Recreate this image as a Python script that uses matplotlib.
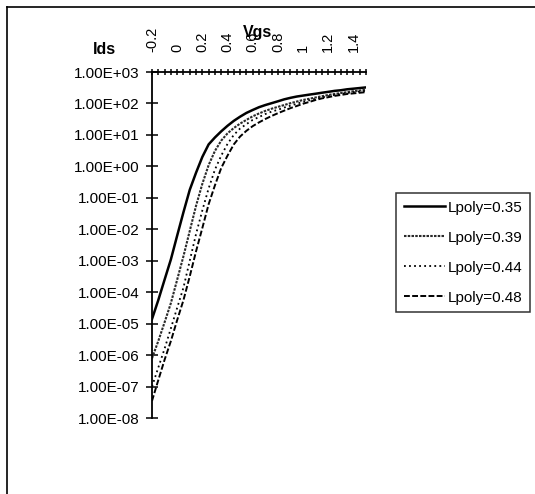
import matplotlib
matplotlib.use("Agg")
import matplotlib.pyplot as plt
from matplotlib.ticker import FixedLocator, FixedFormatter, FuncFormatter
from matplotlib.lines import Line2D

plt.rcParams['font.family'] = ['Liberation Sans', 'DejaVu Sans']

vgs = [-0.2, -0.15, -0.1, -0.05, 0.0, 0.05, 0.1, 0.15, 0.2, 0.25, 0.3, 0.35,
       0.4, 0.45, 0.5, 0.55, 0.6, 0.65, 0.7, 0.75, 0.8, 0.85, 0.9, 0.95, 1.0,
       1.05, 1.1, 1.15, 1.2, 1.25, 1.3, 1.35, 1.4, 1.45, 1.5]

ids_035 = [1.4e-5, 5.6e-5, 2.5e-4, 1.1e-3, 6.3e-3, 3.5e-2, 0.18, 0.63, 2.0, 5.0,
           8.3, 13, 19.5, 28, 38, 50, 62, 76, 89, 102, 117, 135, 151, 166, 178,
           191, 204, 219, 234, 251, 263, 282, 295, 309, 324]
ids_039 = [7.9e-7, 2.8e-6, 1.1e-5, 4.5e-5, 2.5e-4, 1.4e-3, 8.9e-3, 5.6e-2, 0.28, 1.1,
           3.1, 6.6, 11.2, 16.6, 22.9, 30, 39, 48, 58, 68, 78, 89, 102, 115, 129,
           141, 155, 170, 186, 200, 214, 229, 245, 257, 275]
ids_044 = [1.0e-7, 4.0e-7, 1.6e-6, 7.1e-6, 3.2e-5, 1.4e-4, 1.0e-3, 7.1e-3, 4.0e-2, 0.2,
           0.79, 2.2, 5.2, 10, 16, 22, 30, 37, 46, 55, 63, 74, 85, 98, 112,
           126, 141, 155, 170, 186, 200, 214, 229, 240, 251]
ids_048 = [3.5e-8, 1.6e-7, 7.1e-7, 2.8e-6, 1.3e-5, 5.6e-5, 3.2e-4, 2.0e-3, 1.1e-2, 6.3e-2,
           0.25, 0.89, 2.2, 5.0, 8.9, 13.5, 19, 25, 32, 40, 49, 59, 71, 83, 98,
           112, 129, 145, 158, 174, 186, 200, 209, 219, 229]

series_labels = ["Lpoly=0.35", "Lpoly=0.39", "Lpoly=0.44", "Lpoly=0.48"]
x_tick_labels = ["-0.2", "0", "0.2", "0.4", "0.6", "0.8", "1", "1.2", "1.4"]
y_ticks = [1e-8, 1e-7, 1e-6, 1e-5, 1e-4, 1e-3, 1e-2, 1e-1, 1e0, 1e1, 1e2, 1e3]

fig = plt.figure(figsize=(5.35, 4.94), dpi=100)
ax = fig.add_axes([152/535, 1 - 418/494, 214/535, 346/494])

styles = [dict(ls='-', lw=1.8),
          dict(ls=(0, (1.2, 0.6)), lw=1.5, color='#2a2a2a'),
          dict(ls=(0, (1, 1.8)), lw=1.3),
          dict(ls=(0, (3, 1.2)), lw=1.4)]
for ys, lab, st in zip([ids_035, ids_039, ids_044, ids_048], series_labels, styles):
    kw = dict(color='black')
    kw.update(st)
    ax.plot(vgs, ys, label=lab, **kw)

ax.set_yscale('log')
ax.set_xlim(vgs[0], vgs[-1])
ax.set_ylim(y_ticks[0], y_ticks[-1])

for s in ['right', 'bottom']:
    ax.spines[s].set_visible(False)
for s in ['top', 'left']:
    ax.spines[s].set_linewidth(1.3)

ax.xaxis.tick_top()
ax.xaxis.set_major_locator(FixedLocator(vgs))
labs = []
for i, v in enumerate(vgs):
    labs.append(x_tick_labels[i // 4] if i % 4 == 0 else "")
ax.xaxis.set_major_formatter(FixedFormatter(labs))
ax.tick_params(axis='x', which='major', direction='inout', length=5, width=1.1,
               pad=12, labelsize=10.5, labelrotation=90, top=True, bottom=False)

ax.yaxis.set_major_locator(FixedLocator(y_ticks))
ax.yaxis.set_minor_locator(FixedLocator([]))
ax.yaxis.set_major_formatter(FuncFormatter(lambda v, p: f"{v:.2E}"))
ax.tick_params(axis='y', which='major', direction='inout', length=8, width=1.1,
               pad=5, labelsize=11)
ax.tick_params(axis='both', which='minor', length=0)

fig.text(104/535, 1 - 49/494, "Ids", ha='center', va='center',
         fontsize=11.5, fontweight='bold')
fig.text(258/535, 1 - 32/494, "Vgs", ha='center', va='center',
         fontsize=11.5, fontweight='bold')

leg = ax.legend(loc='upper left', bbox_to_anchor=(396/535, 1 - 193/494),
                bbox_transform=fig.transFigure, frameon=True, fancybox=False,
                shadow=False, fontsize=11, handlelength=2.7, handletextpad=0.2,
                labelspacing=1.05, borderpad=0.5, borderaxespad=0)
leg.get_frame().set_edgecolor('black')
leg.get_frame().set_linewidth(1.1)

fig.add_artist(Line2D([7/535, 1], [1 - 7/494, 1 - 7/494], transform=fig.transFigure,
                      color='black', lw=1.2))
fig.add_artist(Line2D([7/535, 7/535], [0, 1 - 7/494], transform=fig.transFigure,
                      color='black', lw=1.2))

fig.savefig("out.png", dpi=100)
